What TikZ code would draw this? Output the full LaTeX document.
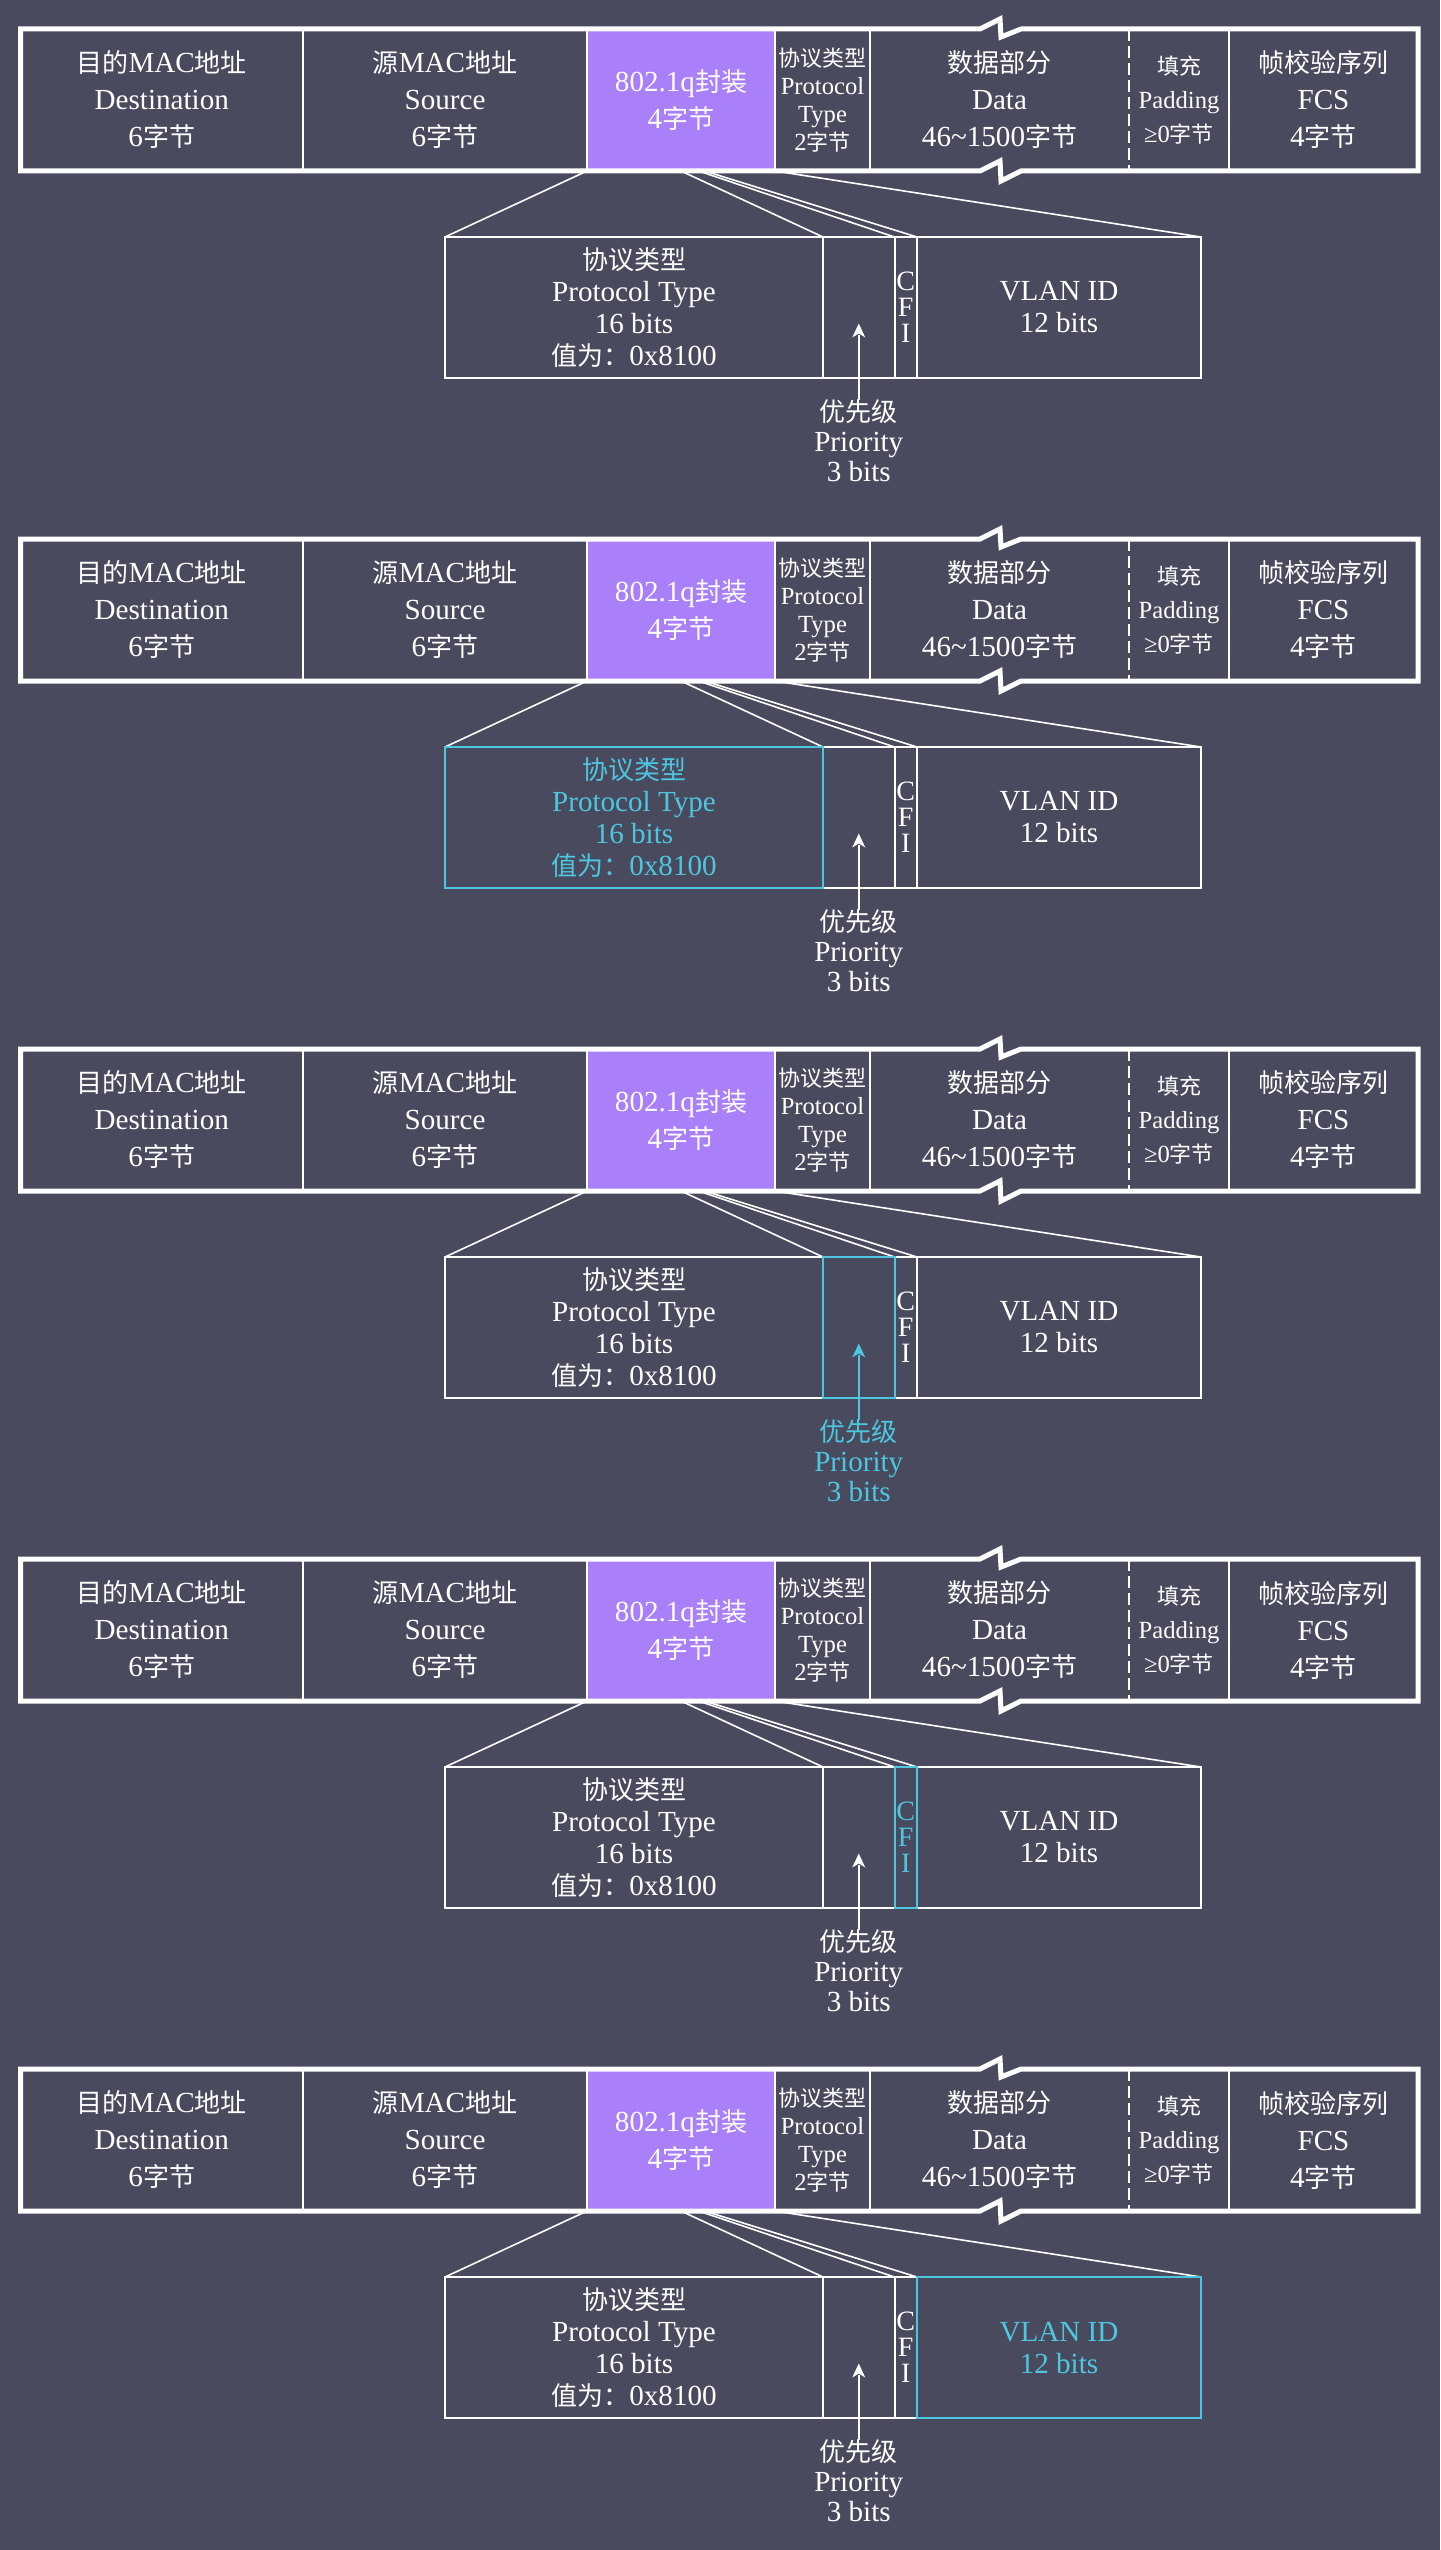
\documentclass[tikz,border=0pt]{standalone}
\usepackage{fontspec}
\usepackage{tikz}
\usetikzlibrary{calc}
\setmainfont{Liberation Serif}[Scale=1.12]
\newfontfamily\cjk{Noto Sans CJK SC}
\newcommand\zh[1]{{\cjk #1}}
\definecolor{bgcol}{HTML}{4A4A5E}
\definecolor{tagcol}{HTML}{A97FFA}
\definecolor{hlcol}{HTML}{4DC7E0}

\begin{document}
\begin{tikzpicture}[x=1pt,y=-1pt,
  field/.style={minimum height=142pt,align=center,font=\fontsize{26}{37}\selectfont},
  small/.style={font=\fontsize{22}{28}\selectfont},
  bitbox/.style={draw,line width=2pt,minimum height=141pt,align=center,font=\fontsize{26}{32}\selectfont},
  lbl/.style={align=center,font=\fontsize{26}{30}\selectfont},
  thinline/.style={line width=2pt},
  fanline/.style={line width=1.6pt},
  hl-pt/.style={},hl-pri/.style={},hl-cfi/.style={},hl-vid/.style={}]
\tikzstyle{every node}+=[inner sep=0pt,outer sep=0pt]
\fill [bgcol] (0,0) rectangle (1440,2550);
\foreach \i/\sel in {1/none,2/pt,3/pri,4/cfi,5/vid} {
\begin{scope}[shift={(0,510*(\i-1))},white]
\tikzset{hl-\sel/.style={color=hlcol}}
\node [field,minimum width=282.5pt] (dst\i) at (161.75,100) {\zh{目的}MAC\zh{地址}\\Destination\\6\zh{字节}};
\node [field,minimum width=284pt] (src\i) at (445,100) {\zh{源}MAC\zh{地址}\\Source\\6\zh{字节}};
\node [field,minimum width=188pt,fill=tagcol] (tag\i) at (681,100) {802.1q\zh{封装}\\4\zh{字节}};
\node [field,small,minimum width=95pt] (typ\i) at (822.5,100) {\zh{协议类型}\\Protocol\\Type\\2\zh{字节}};
\node [field,minimum width=259pt] (dat\i) at (999.5,100) {\zh{数据部分}\\Data\\46\textasciitilde 1500\zh{字节}};
\node [field,font=\fontsize{22}{34}\selectfont,minimum width=100pt] (pad\i) at (1179,100) {\zh{填充}\\Padding\\≥0\zh{字节}};
\node [field,minimum width=189pt] (fcs\i) at (1323.5,100) {\zh{帧校验序列}\\FCS\\4\zh{字节}};
\draw [line width=5pt] (dst\i.north west) -- ([xshift=-19.5pt]dat\i.north) -- ++(20,-10) -- ++(1,18) -- ++(20,-8) -- (fcs\i.north east) -- (fcs\i.south east) -- ([xshift=21.5pt]dat\i.south) -- ++(-20,10) -- ++(-1,-20) -- ++(-20,10) -- (dst\i.south west) -- cycle;
\foreach \n in {dst,src,tag,typ,pad}
  \draw [thinline] (\n\i.north east) -- (\n\i.south east);
\draw [thinline,dash pattern=on 12pt off 5pt] (dat\i.north east) -- (dat\i.south east);
\node [bitbox,minimum width=378pt,hl-pt] (pt\i) at (634,307.5) {\zh{协议类型}\\Protocol Type\\16 bits\\\zh{值为：}0x8100};
\node [bitbox,minimum width=71.5pt] (pri\i) at (858.75,307.5) {};
\node [bitbox,minimum width=22.5pt,font=\fontsize{25}{26}\selectfont,hl-cfi] (cfi\i) at (905.75,307.5) {C\\F\\I};
\node [bitbox,minimum width=284pt,hl-vid] (vid\i) at (1059,307.5) {VLAN ID\\12 bits};
\draw [fanline] (tag\i.south west) -- (pt\i.north west);
\draw [fanline] (tag\i.south) -- (pt\i.north east);
\draw [fanline] ($(tag\i.south west)!0.59375!(tag\i.south east)$) -- (pri\i.north east);
\draw [fanline] ($(tag\i.south west)!0.625!(tag\i.south east)$) -- (cfi\i.north east);
\draw [fanline] (tag\i.south east) -- (vid\i.north east);
\ifnum\i>1
  \draw [hlcol,thinline] (\sel\i.north west) rectangle (\sel\i.south east);
\fi
\node [lbl,below,hl-pri] (prilbl\i) at ([yshift=-22pt]pri\i.south) {\zh{优先级}\\Priority\\3 bits};
\coordinate (tip\i) at ([yshift=-16pt]pri\i.center);
\draw [thinline,hl-pri] (prilbl\i.north) -- ([yshift=-11pt]tip\i);
\fill [hl-pri] (tip\i) -- ++(-6.5,14) -- ++(6.5,-4) -- ++(6.5,4);
\end{scope}
}
\end{tikzpicture}
\end{document}
